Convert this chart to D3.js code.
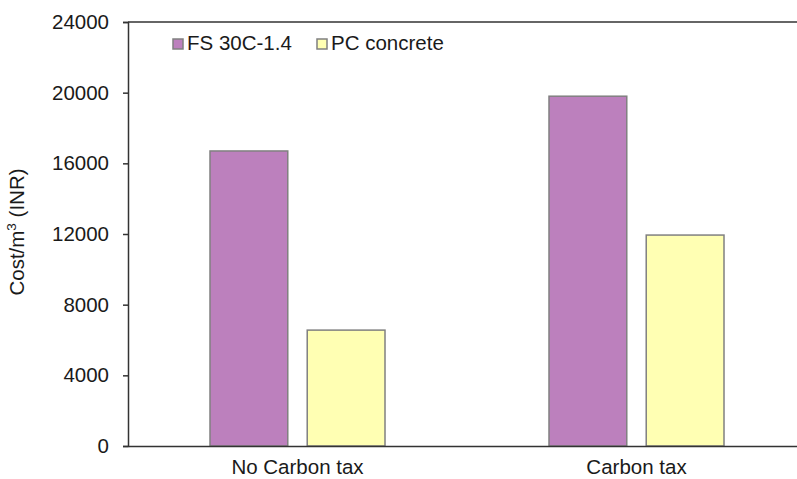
<!DOCTYPE html>
<html>
<head>
<meta charset="utf-8">
<script src="https://cdn.jsdelivr.net/npm/d3@7"></script>
<style>
  body { margin: 0; background: #fff; }
  svg { display: block; font-family: "Liberation Sans", Arial, sans-serif; }
</style>
</head>
<body>
<svg id="chart" width="797" height="479"></svg>
<script>
// data
const categories = ["No Carbon tax", "Carbon tax"];
const seriesNames = ["FS 30C-1.4", "PC concrete"];
const fsValues = [16700, 19800];
const pcValues = [6560, 11940];
const yTicks = [0, 4000, 8000, 12000, 16000, 20000, 24000];
const colors = ["#bc80bd", "#ffffb3"];

const svg = d3.select("#chart");
const fontSize = 20.5;
// plot area runs past the right edge of the window, as in the original
const margin = { left: 128, top: 22, right: 806, bottom: 446 };

const x0 = d3.scaleBand()
  .domain(categories)
  .range([margin.left, margin.right])
  .paddingInner(0)
  .paddingOuter(0);

const x1 = d3.scaleBand()
  .domain(seriesNames)
  .range([82, x0.bandwidth() - 82])
  .paddingInner(0.2);

const y = d3.scaleLinear()
  .domain([0, 24000])
  .range([margin.bottom, margin.top]);

// top frame line
svg.append("line")
  .attr("x1", margin.left).attr("x2", margin.right)
  .attr("y1", margin.top).attr("y2", margin.top)
  .attr("stroke", "#333").attr("stroke-width", 1.5);

// bars
const rows = categories.map((c, i) => ({ cat: c, vals: [fsValues[i], pcValues[i]] }));
const group = svg.append("g")
  .selectAll("g")
  .data(rows)
  .join("g")
  .attr("transform", d => `translate(${x0(d.cat)},0)`);

group.selectAll("rect")
  .data(d => d.vals.map((v, j) => ({ name: seriesNames[j], v, j })))
  .join("rect")
  .attr("x", d => x1(d.name))
  .attr("width", x1.bandwidth())
  .attr("y", d => y(d.v))
  .attr("height", d => y(0) - y(d.v))
  .attr("fill", d => colors[d.j])
  .attr("stroke", "#808080")
  .attr("stroke-width", 1.5);

// y axis
const yAxis = svg.append("g")
  .attr("transform", `translate(${margin.left},0)`)
  .call(d3.axisLeft(y).tickValues(yTicks).tickSize(5).tickPadding(14).tickFormat(d3.format("d")));
yAxis.attr("font-size", null).attr("font-family", null);
yAxis.select(".domain").attr("stroke", "#333").attr("stroke-width", 1.5);
yAxis.selectAll(".tick line").attr("stroke", "#333").attr("stroke-width", 1.5);
yAxis.selectAll("text").style("font-size", fontSize + "px").attr("fill", "#1a1a1a");

// x axis
const xAxis = svg.append("g")
  .attr("transform", `translate(0,${margin.bottom})`)
  .call(d3.axisBottom(x0).tickSize(0).tickPadding(13.5));
xAxis.attr("font-size", null).attr("font-family", null);
xAxis.select(".domain").attr("stroke", "#333").attr("stroke-width", 1.5);
xAxis.selectAll("text").style("font-size", fontSize + "px").attr("fill", "#1a1a1a");

// y label
const yLabel = svg.append("text")
  .attr("transform", "translate(24,232) rotate(-90)")
  .attr("text-anchor", "middle")
  .style("font-size", fontSize + "px")
  .attr("fill", "#1a1a1a");
yLabel.append("tspan").text("Cost/m");
yLabel.append("tspan").attr("dy", -8).style("font-size", "13.5px").text("3");
yLabel.append("tspan").attr("dy", 8).text(" (INR)");

// legend
const legendX = [173, 317];
const legend = svg.append("g")
  .selectAll("g")
  .data(seriesNames)
  .join("g")
  .attr("transform", (d, i) => `translate(${legendX[i]},39)`);
legend.append("rect")
  .attr("width", 10).attr("height", 10)
  .attr("fill", (d, i) => colors[i])
  .attr("stroke", "#808080").attr("stroke-width", 1.5);
legend.append("text")
  .attr("x", 14).attr("y", 10.5)
  .style("font-size", fontSize + "px")
  .attr("fill", "#1a1a1a")
  .text(d => d);
</script>
</body>
</html>
